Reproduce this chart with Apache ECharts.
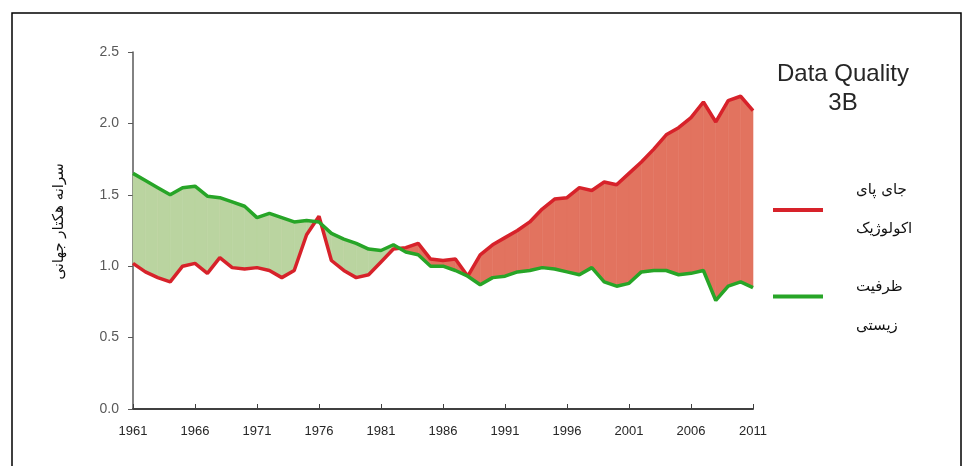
<!DOCTYPE html>
<html>
<head>
<meta charset="utf-8">
<script src="https://cdn.jsdelivr.net/npm/echarts@6/dist/echarts.min.js"></script>
<style>
  html, body { margin: 0; padding: 0; background: #fff; }
  #main { width: 963px; height: 466px; }
</style>
</head>
<body>
<div id="main"></div>
<script>
// years on the x axis
var years = ['1961','1962','1963','1964','1965','1966','1967','1968','1969','1970',
  '1971','1972','1973','1974','1975','1976','1977','1978','1979','1980',
  '1981','1982','1983','1984','1985','1986','1987','1988','1989','1990',
  '1991','1992','1993','1994','1995','1996','1997','1998','1999','2000',
  '2001','2002','2003','2004','2005','2006','2007','2008','2009','2010','2011'];

// ecological footprint (red)
var footprint = [1.02,0.96,0.92,0.89,1.00,1.02,0.95,1.06,0.99,0.98,
  0.99,0.97,0.92,0.97,1.22,1.35,1.04,0.97,0.92,0.94,
  1.03,1.12,1.13,1.16,1.05,1.04,1.05,0.93,1.08,1.15,
  1.20,1.25,1.31,1.40,1.47,1.48,1.55,1.53,1.59,1.57,
  1.65,1.73,1.82,1.92,1.97,2.04,2.15,2.01,2.16,2.19,2.09];

// biocapacity (green)
var biocapacity = [1.65,1.60,1.55,1.50,1.55,1.56,1.49,1.48,1.45,1.42,
  1.34,1.37,1.34,1.31,1.32,1.31,1.23,1.19,1.16,1.12,
  1.11,1.15,1.10,1.08,1.00,1.00,0.97,0.93,0.87,0.92,
  0.93,0.96,0.97,0.99,0.98,0.96,0.94,0.99,0.89,0.86,
  0.88,0.96,0.97,0.97,0.94,0.95,0.97,0.76,0.86,0.89,0.85];

var yTicks = [0, 0.5, 1.0, 1.5, 2.0, 2.5];
var seriesNames = ['جای پای اکولوژیک', 'ظرفیت زیستی'];

var RED = '#d7222a';
var GREEN = '#27a527';
var RED_FILL = '#e2735f';
var GREEN_FILL = '#bad4a0';

var chart = echarts.init(document.getElementById('main'));

// fill between the two lines, coloured by which one is on top
function renderBand(params, api) {
  var i = params.dataIndex;
  var ra = api.coord([i, footprint[i]]);
  var rb = api.coord([i + 1, footprint[i + 1]]);
  var ga = api.coord([i, biocapacity[i]]);
  var gb = api.coord([i + 1, biocapacity[i + 1]]);
  var d0 = footprint[i] - biocapacity[i];
  var d1 = footprint[i + 1] - biocapacity[i + 1];
  var children = [];
  function poly(pts, d) {
    var c = d > 0 ? RED_FILL : GREEN_FILL;
    children.push({
      type: 'polygon',
      shape: { points: pts },
      style: { fill: c, stroke: c, lineWidth: 0.6 }
    });
  }
  if (d0 * d1 >= 0) {
    poly([ra, rb, gb, ga], d0 + d1);
  } else {
    var t = d0 / (d0 - d1);
    var x = [ra[0] + (rb[0] - ra[0]) * t, ra[1] + (rb[1] - ra[1]) * t];
    poly([ra, x, ga], d0);
    poly([x, rb, gb], d1);
  }
  return { type: 'group', children: children };
}

var option = {
  animation: false,
  backgroundColor: '#fff',
  title: {
    text: 'Data Quality\n3B',
    left: 838,
    top: 55,
    textAlign: 'center',
    textStyle: {
      fontFamily: 'Liberation Sans',
      fontSize: 24,
      fontWeight: 'normal',
      lineHeight: 29,
      color: '#262626'
    }
  },
  legend: {
    orient: 'vertical',
    left: 768,
    top: 166,
    itemWidth: 50,
    itemHeight: 4,
    itemGap: -2,
    icon: 'rect',
    data: seriesNames,
    formatter: function (name) {
      // green label sits a little lower than its line in the original
      return name === seriesNames[0] ? 'جای پای\nاکولوژیک' : '{sp| }\nظرفیت\nزیستی';
    },
    textStyle: {
      fontFamily: 'DejaVu Sans',
      fontSize: 15,
      lineHeight: 39,
      color: '#111',
      padding: [0, 0, 0, 28],
      rich: {
        sp: { lineHeight: 21, fontSize: 10 }
      }
    }
  },
  graphic: [{
    type: 'rect',
    shape: { x: 12, y: 13, width: 949, height: 480 },
    style: { fill: 'none', stroke: '#000', lineWidth: 1.5 },
    silent: true
  }],
  grid: { left: 133, right: 210, top: 52, bottom: 57 },
  xAxis: {
    type: 'category',
    data: years,
    boundaryGap: false,
    axisLine: { lineStyle: { color: '#404040', width: 2 } },
    axisTick: { inside: true, length: 5, interval: 4, lineStyle: { color: '#404040' } },
    axisLabel: {
      interval: 4,
      margin: 16,
      fontFamily: 'Liberation Sans',
      fontSize: 13,
      color: '#262626'
    },
    splitLine: { show: false }
  },
  yAxis: {
    type: 'value',
    min: yTicks[0],
    max: yTicks[yTicks.length - 1],
    interval: 0.5,
    name: 'سرانه هکتار جهانی',
    nameLocation: 'middle',
    nameGap: 66,
    nameTextStyle: {
      fontFamily: 'DejaVu Sans',
      fontSize: 15,
      color: '#111',
      padding: [0, 0, 0, 18]
    },
    axisLine: { show: true, lineStyle: { color: '#595959', width: 1.5 } },
    axisTick: { show: true, length: 5, lineStyle: { color: '#595959' } },
    axisLabel: {
      margin: 14,
      fontFamily: 'Liberation Sans',
      fontSize: 14,
      color: '#595959',
      formatter: function (v) { return v.toFixed(1); }
    },
    splitLine: { show: false }
  },
  series: [
    {
      type: 'custom',
      name: 'band',
      renderItem: renderBand,
      data: footprint.slice(0, -1).map(function (v, i) { return [i, v]; }),
      encode: { x: 0, y: 1 },
      silent: true,
      z: 1
    },
    {
      type: 'line',
      name: seriesNames[0],
      data: footprint,
      symbol: 'none',
      color: RED,
      lineStyle: { color: RED, width: 3.5 },
      z: 4
    },
    {
      type: 'line',
      name: seriesNames[1],
      data: biocapacity,
      symbol: 'none',
      color: GREEN,
      lineStyle: { color: GREEN, width: 3.5 },
      z: 5
    }
  ]
};

chart.setOption(option);
</script>
</body>
</html>
